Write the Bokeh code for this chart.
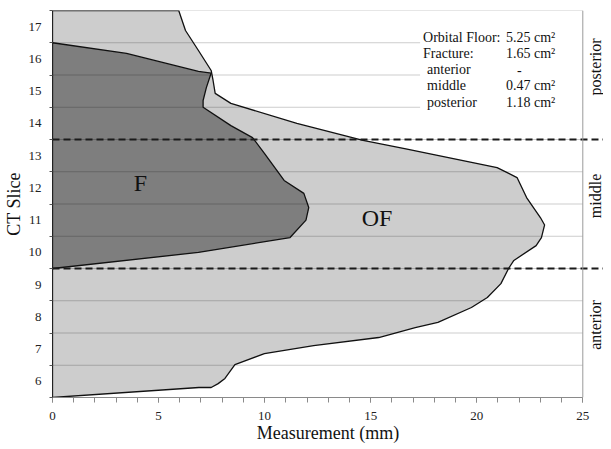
import math
from bokeh.plotting import figure
from bokeh.models import Range1d, FixedTicker, Span
from bokeh.core.properties import value
from bokeh.embed import file_html
from bokeh.resources import INLINE

# ---------------- data ----------------
slices = list(range(6, 18))                 # CT slice numbers (y categories)
slice_labels = [str(s) for s in slices]
x_ticks = [0, 5, 10, 15, 20, 25]
x_minor = list(range(0, 26))

# Orbital floor (OF) outline: measurement (mm) along CT slice position
of_slice = [5.5, 5.81, 5.81, 5.93, 6.09, 6.52, 6.86, 7.11, 7.36, 7.67, 7.83,
            8.29, 8.6, 9.03, 9.5, 9.75, 10.21, 10.46, 10.85, 11.08, 11.7,
            12.32, 12.63, 13.22, 13.47, 14.0, 14.62, 14.93, 15.33, 15.64,
            16.26, 16.88, 17.5, 17.5]
of_mm = [0, 6.9, 7.48, 7.81, 8.13, 8.6, 9.99, 12.31, 15.38, 17.1, 18.17,
         19.75, 20.5, 21.14, 21.5, 21.75, 22.8, 23.05, 23.2, 23.0, 22.35,
         21.9, 20.96, 16.6, 14.64, 11.52, 8.41, 7.67, 7.57, 7.48,
         6.88, 6.27, 5.95, 0]

# Fracture (F) outline
f_slice = [9.5, 10.0, 10.46, 11.0, 11.39, 11.83, 12.23, 13.07, 13.56, 13.93,
           14.5, 14.71, 15.1, 15.56, 15.61, 16.17, 16.5]
f_mm = [0, 6.88, 11.2, 11.95, 12.08, 11.85, 10.92, 9.99, 9.43, 8.41,
        7.1, 7.1, 7.25, 7.48, 6.88, 3.49, 0]

regions = ["anterior", "middle", "posterior"]
region_start = [5.5, 9.5, 13.5]
region_end = [9.5, 13.5, 17.5]

stat_labels = ["Orbital Floor:", "Fracture:", "anterior", "middle", "posterior"]
stat_values = ["5.25 cm\u00b2", "1.65 cm\u00b2", "-", "0.47 cm\u00b2", "1.18 cm\u00b2"]
stat_indent = [False, False, True, True, True]

# ---------------- layout constants ----------------
X_END = 25.976
Y_LO, Y_HI = slices[0] - 0.5, slices[-1] + 0.5
SERIF = "Liberation Serif"
LIGHT = "#cdcdcd"
DARK = "#7e7e7e"

p = figure(width=603, height=447,
           x_range=Range1d(0, X_END), y_range=Range1d(Y_LO, Y_HI),
           output_backend="svg", toolbar_location=None,
           min_border_left=44, min_border_right=0,
           min_border_top=10, min_border_bottom=50)
p.outline_line_color = None
p.xgrid.visible = False
p.ygrid.visible = False

# axes
xa = p.xaxis[0]
xa.ticker = FixedTicker(ticks=x_ticks, minor_ticks=x_minor)
xa.bounds = (0, 25)
xa.axis_line_color = "#8a8a8a"
xa.major_tick_line_color = "#8a8a8a"
xa.minor_tick_line_color = "#8a8a8a"
xa.major_tick_out = 5
xa.major_tick_in = 0
xa.minor_tick_out = 5
xa.minor_tick_in = 0
xa.major_label_text_font = SERIF
xa.major_label_text_font_size = "13px"
xa.major_label_text_color = "#222222"
xa.major_label_standoff = 9
xa.axis_label = "Measurement (mm)"
xa.axis_label_text_font = SERIF
xa.axis_label_text_font_size = "18px"
xa.axis_label_text_font_style = "normal"
xa.axis_label_text_color = "#111111"
xa.axis_label_standoff = 0

boundaries = [s - 0.5 for s in slices] + [slices[-1] + 0.5]
ya = p.yaxis[0]
ya.ticker = FixedTicker(ticks=slices, minor_ticks=boundaries)
ya.major_label_overrides = {s: l for s, l in zip(slices, slice_labels)}
ya.axis_line_color = "#222222"
ya.major_tick_out = 0
ya.major_tick_in = 0
ya.minor_tick_out = 3
ya.minor_tick_in = 0
ya.minor_tick_line_color = "#555555"
ya.major_label_text_font = SERIF
ya.major_label_text_font_size = "13px"
ya.major_label_text_color = "#222222"
ya.major_label_standoff = 8
ya.axis_label = "CT Slice"
ya.axis_label_text_font = SERIF
ya.axis_label_text_font_size = "18px"
ya.axis_label_text_font_style = "normal"
ya.axis_label_text_color = "#111111"
ya.axis_label_standoff = 2

# filled areas
p.patch(of_mm, of_slice, fill_color=LIGHT, line_color="#111111", line_width=1.3)
p.patch(f_mm, f_slice, fill_color=DARK, line_color="#111111", line_width=1.3)

# horizontal slice grid lines (drawn above fills)
grid_y = boundaries[1:]
p.segment(x0=[0] * len(grid_y), y0=grid_y, x1=[25] * len(grid_y), y1=grid_y,
          line_color="black", line_alpha=0.2, line_width=1)

# white box behind summary text
p.quad(left=[17.33], right=[25], bottom=[14.3], top=[17.45],
       fill_color="white", line_color=None)

# summary text
row_h = 0.5
first_base = 16.66
ys = [first_base - i * row_h for i in range(len(stat_labels))]
lx = [17.66 if ind else 17.47 for ind in stat_indent]
vx = [21.9 if v == "-" else 21.38 for v in stat_values]
p.text(x=lx, y=ys, text=stat_labels, text_font=value(SERIF),
       text_font_size="14px", text_color="#111111",
       text_align="left", text_baseline="alphabetic")
p.text(x=vx, y=ys, text=stat_values, text_font=value(SERIF),
       text_font_size="14px", text_color="#111111",
       text_align="left", text_baseline="alphabetic")

# region boundaries (dashed)
bnd = region_end[:-1]
p.segment(x0=[0] * len(bnd), y0=bnd, x1=[X_END] * len(bnd), y1=bnd,
          line_color="#1a1a1a", line_width=2, line_dash="7 4")

# right border of the plot box
p.add_layout(Span(location=25, dimension="height", line_color="#9a9a9a",
                  line_width=1))

# area labels
p.text(x=[4.15], y=[12.14], text=["F"], text_font=value(SERIF),
       text_font_size="24px", text_color="#111111",
       text_align="center", text_baseline="middle")
p.text(x=[15.3], y=[11.08], text=["OF"], text_font=value(SERIF),
       text_font_size="24px", text_color="#111111",
       text_align="center", text_baseline="middle")

# region labels on the right (rotated, reading bottom to top)
label_y = [(a + b) / 2 + 0.25 for a, b in zip(region_start, region_end)]
p.text(x=[25.62] * len(regions), y=label_y, text=regions, angle=math.pi / 2,
       text_font=value(SERIF), text_font_size="16px", text_color="#111111",
       text_align="center", text_baseline="middle")

open("out.html", "w").write(file_html(p, INLINE))
